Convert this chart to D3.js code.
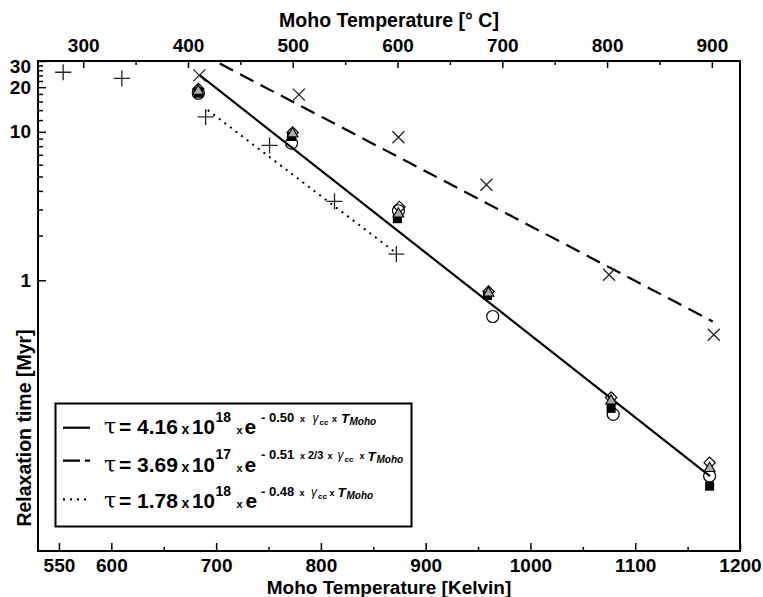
<!DOCTYPE html>
<html>
<head>
<meta charset="utf-8">
<script src="https://cdn.jsdelivr.net/npm/d3@7"></script>
<style>
  body { margin: 0; background: #fff; }
  svg text { font-family: "Liberation Sans", Arial, sans-serif; font-weight: bold; }
</style>
</head>
<body>
<div id="chart"></div>
<script>
// Relaxation time vs Moho temperature (log y), with fitted exponential trends

// Tick values
const kelvinMajor = [550, 600, 700, 800, 900, 1000, 1100, 1200];
const kelvinMinor = [650, 750, 850, 950, 1050, 1150];
const celsiusMajor = [300, 400, 500, 600, 700, 800, 900];
const celsiusMinor = [350, 450, 550, 650, 750, 850];
const tauMajor = [1, 10, 20, 30];
const tauMinor = [2, 3, 4, 5, 6, 7, 8, 9, 12, 14, 16, 18, 22, 24, 26, 28];

// "+" series
const plusK = [554, 610, 690, 751, 813, 872];
const plusTau = [25.2, 22.9, 12.6, 8.1, 3.4, 1.5];

// "x" series
const crossK = [684, 779, 874, 958, 1075, 1175];
const crossTau = [24.0, 17.8, 9.2, 4.4, 1.09, 0.43];

// model runs (four marker types)
const circleK = [683, 772, 874, 964, 1079, 1171];
const circleTau = [18.2, 8.4, 2.94, 0.57, 0.125, 0.048];
const diamondK = [683, 773, 875, 960, 1077, 1171];
const diamondTau = [19.4, 9.9, 3.12, 0.84, 0.162, 0.059];
const triangleK = [683, 773, 874, 960, 1077, 1171];
const triangleTau = [18.8, 9.7, 2.80, 0.82, 0.154, 0.054];
const squareK = [683, 772, 873, 959, 1077, 1171];
const squareTau = [18.2, 9.3, 2.60, 0.79, 0.137, 0.041];

// fitted lines (end points)
const solidK = [684.6, 1171.3];
const solidTau = [24.0, 0.048];
const dashedK = [684, 1174];
const dashedTau = [34, 0.528];
const dottedK = [692, 870];
const dottedTau = [14.0, 1.56];

// legend formulas
const legendCoef = ["4.16", "3.69", "1.78"];
const legendPow = ["18", "17", "18"];
const legendRate = ["- 0.50", "- 0.51", "- 0.48"];

const width = 763, height = 597;
const pLeft = 38, pRight = 740, pTop = 61, pBottom = 551;

const svg = d3.select("#chart").append("svg")
  .attr("width", width)
  .attr("height", height);

// Scales
const x = d3.scaleLinear().domain([530, 1200]).range([pLeft, pRight]);
const xc = d3.scaleLinear().domain([530 - 273.15, 1200 - 273.15]).range([pLeft, pRight]);
const y = d3.scaleLog().domain([0.015, 30]).range([pBottom, pTop]);

svg.append("defs").append("clipPath").attr("id", "plot")
  .append("rect")
  .attr("x", pLeft).attr("y", pTop)
  .attr("width", pRight - pLeft).attr("height", pBottom - pTop);

function styleAxis(g, size) {
  g.select(".domain").remove();
  g.selectAll("line").attr("stroke", "#000").attr("stroke-width", 1.5);
  g.selectAll("text").attr("fill", "#000").style("font-size", size + "px");
}

// Bottom axis (Kelvin)
svg.append("g")
  .attr("transform", `translate(0,${pBottom})`)
  .call(d3.axisBottom(x).tickValues(kelvinMajor).tickSize(-8).tickPadding(8).tickFormat(d3.format("d")))
  .call(g => styleAxis(g, 19));
svg.append("g")
  .attr("transform", `translate(0,${pBottom})`)
  .call(d3.axisBottom(x).tickValues(kelvinMinor).tickSize(-4).tickFormat(""))
  .call(g => styleAxis(g, 19));

// Top axis (Celsius)
svg.append("g")
  .attr("transform", `translate(0,${pTop})`)
  .call(d3.axisTop(xc).tickValues(celsiusMajor).tickSize(-7).tickPadding(9).tickFormat(d3.format("d")))
  .call(g => styleAxis(g, 19));
svg.append("g")
  .attr("transform", `translate(0,${pTop})`)
  .call(d3.axisTop(xc).tickValues(celsiusMinor).tickSize(-4).tickFormat(""))
  .call(g => styleAxis(g, 19));

// Left axis (log)
const yAxisG = svg.append("g")
  .attr("transform", `translate(${pLeft},0)`)
  .call(d3.axisLeft(y).tickValues(tauMajor).tickSize(-8).tickPadding(7).tickFormat(d3.format("d")))
  .call(g => styleAxis(g, 19));
yAxisG.selectAll(".tick").filter(d => d === 30).select("text").attr("dy", "0.62em");
svg.append("g")
  .attr("transform", `translate(${pLeft},0)`)
  .call(d3.axisLeft(y).tickValues(tauMinor).tickSize(-5).tickFormat(""))
  .call(g => styleAxis(g, 19));

// Frame
svg.append("rect")
  .attr("x", pLeft).attr("y", pTop)
  .attr("width", pRight - pLeft).attr("height", pBottom - pTop)
  .attr("fill", "none").attr("stroke", "#000").attr("stroke-width", 2);

// Axis titles
svg.append("text")
  .attr("x", 389).attr("y", 27)
  .attr("text-anchor", "middle")
  .style("font-size", "19.5px")
  .text("Moho Temperature [\u00B0 C]");
svg.append("text")
  .attr("x", 389).attr("y", 593.5)
  .attr("text-anchor", "middle")
  .style("font-size", "19px")
  .text("Moho Temperature [Kelvin]");
svg.append("text")
  .attr("transform", "translate(31,428) rotate(-90)")
  .attr("text-anchor", "middle")
  .style("font-size", "19.5px")
  .text("Relaxation time [Myr]");

// Fit lines
const plot = svg.append("g").attr("clip-path", "url(#plot)");
const line = d3.line().x(d => x(d[0])).y(d => y(d[1]));

plot.append("path")
  .datum(d3.zip(solidK, solidTau))
  .attr("d", line)
  .attr("fill", "none").attr("stroke", "#000").attr("stroke-width", 2.2);
plot.append("path")
  .datum(d3.zip(dashedK, dashedTau))
  .attr("d", line)
  .attr("fill", "none").attr("stroke", "#000").attr("stroke-width", 2.2)
  .attr("stroke-dasharray", "15,8");
plot.append("path")
  .datum(d3.zip(dottedK, dottedTau))
  .attr("d", line)
  .attr("fill", "none").attr("stroke", "#000").attr("stroke-width", 2)
  .attr("stroke-dasharray", "2,5");

// Markers
function drawPoints(ks, taus, draw) {
  const g = plot.append("g");
  d3.zip(ks, taus).forEach(d => {
    draw(g.append("g").attr("transform", `translate(${x(d[0])},${y(d[1])})`));
  });
}

drawPoints(plusK, plusTau, g => g.append("path")
  .attr("d", "M-8,0H8M0,-8V8")
  .attr("stroke", "#222").attr("stroke-width", 1.3));

drawPoints(crossK, crossTau, g => g.append("path")
  .attr("d", "M-6,-6L6,6M-6,6L6,-6")
  .attr("stroke", "#222").attr("stroke-width", 1.3));

drawPoints(squareK, squareTau, g => g.append("rect")
  .attr("x", -4.5).attr("y", -4.5).attr("width", 9).attr("height", 9)
  .attr("fill", "#000"));

drawPoints(circleK, circleTau, g => g.append("circle")
  .attr("r", 6)
  .attr("fill", "none").attr("stroke", "#000").attr("stroke-width", 1.2));

drawPoints(diamondK, diamondTau, g => g.append("path")
  .attr("d", d3.symbol(d3.symbolSquare, 64)())
  .attr("transform", "rotate(45)")
  .attr("fill", "none").attr("stroke", "#000").attr("stroke-width", 1.2));

drawPoints(triangleK, triangleTau, g => g.append("path")
  .attr("d", d3.symbol(d3.symbolTriangle, 50)())
  .attr("fill", "#aaa").attr("stroke", "#000").attr("stroke-width", 1.1));

// Legend
svg.append("rect")
  .attr("x", 55.5).attr("y", 403.5)
  .attr("width", 356).attr("height", 123)
  .attr("fill", "#fff").attr("stroke", "#000").attr("stroke-width", 2);

const rowBase = [434, 471.5, 508];
const rowLine = [427.7, 460.7, 499.3];
const rowDash = [null, "17,5", "2,5"];

// pieces of the exponent: [text, x, dy from exponent baseline, size, italic, bold]
const expPieces = [
  [["x", 300, 0, 9], ["\u03B3", 312.5, 0, 12, true, false], ["cc", 319.5, 3, 8, true], ["x", 332, 0, 9], ["T", 341, 1.5, 13.5, true], ["Moho", 349.5, 3.5, 10, true]],
  [["x", 300, 0, 9], ["2/3", 308, 0, 11], ["x", 327.5, 0, 9], ["\u03B3", 337.5, 0, 12, true, false], ["cc", 344.5, 3, 8, true], ["x", 359.5, 0, 9], ["T", 367.5, 1.5, 13.5, true], ["Moho", 376.5, 3.5, 10, true]],
  [["x", 299.5, 0, 9], ["\u03B3", 311, 0, 12, true, false], ["cc", 318, 3, 8, true], ["x", 329.5, 0, 9], ["T", 337.5, 1.5, 13.5, true], ["Moho", 346.5, 3.5, 10, true]]
];

rowBase.forEach((base, i) => {
  svg.append("line")
    .attr("x1", 63).attr("x2", 90)
    .attr("y1", rowLine[i]).attr("y2", rowLine[i])
    .attr("stroke", "#000").attr("stroke-width", 2.2)
    .attr("stroke-dasharray", rowDash[i]);

  const g = svg.append("g");
  const put = (txt, px, py, size, italic, bold) => g.append("text")
    .attr("x", px).attr("y", py)
    .style("font-size", size + "px")
    .style("font-style", italic ? "italic" : "normal")
    .style("font-weight", bold === false ? "normal" : "bold")
    .text(txt);

  put("\u03C4", 104, base, 22, false, false).style("font-family", "DejaVu Serif");
  put("= " + legendCoef[i], 119, base, 21);
  put("x", 181.5, base, 14);
  put("10", 192, base, 20.5);
  put(legendPow[i], 215.5, base - 12.5, 14);
  put("x", 236.5, base, 11);
  put("e", i === 2 ? 245.5 : 244.5, base, 21);

  const eb = base - 12.5;
  put(legendRate[i], 261, eb, 13);
  expPieces[i].forEach(p => put(p[0], p[1], eb + p[2], p[3], p[4], p[5]));
});
</script>
</body>
</html>
